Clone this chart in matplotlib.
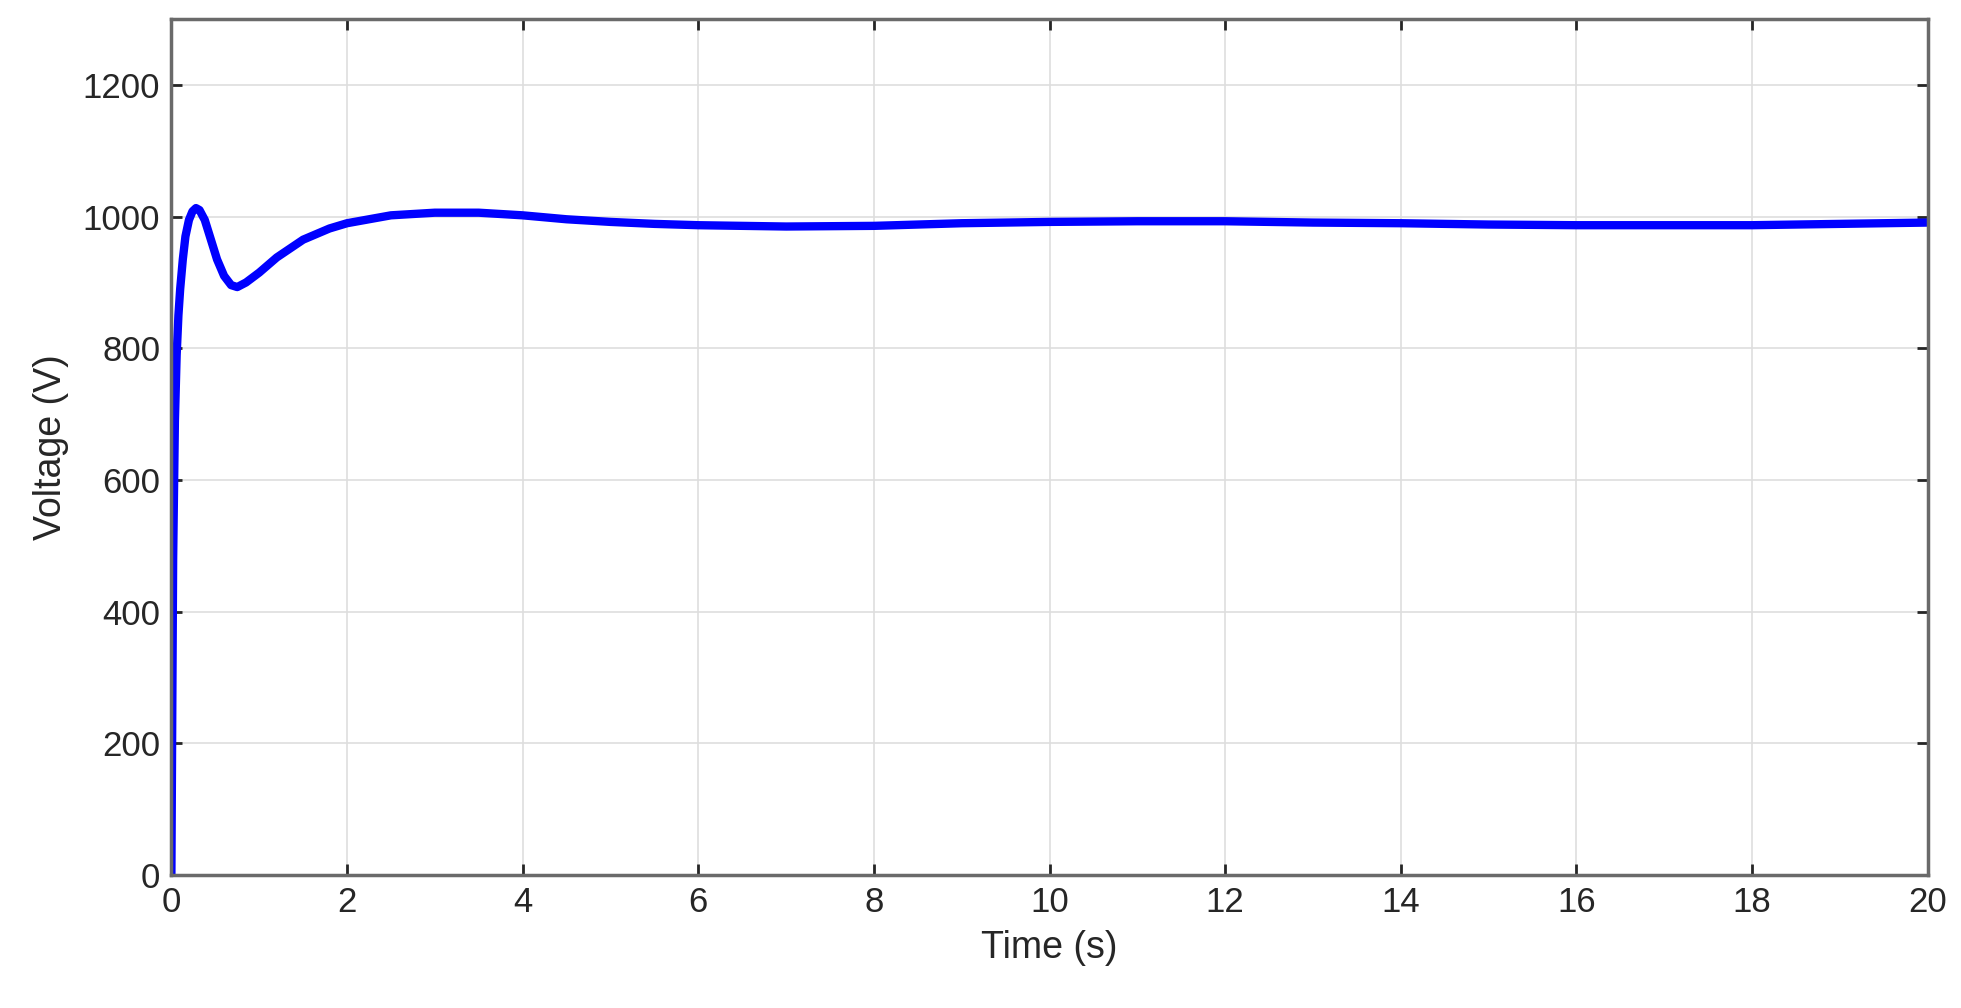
import matplotlib
matplotlib.use("Agg")
import matplotlib.pyplot as plt

plt.rcParams["font.family"] = ["Liberation Sans", "DejaVu Sans"]

# voltage response
time_s = [0, 0.01, 0.02, 0.04, 0.06, 0.08, 0.1, 0.13, 0.16, 0.2, 0.24, 0.28, 0.32,
          0.38, 0.45, 0.52, 0.6, 0.68, 0.75, 0.85, 1.0, 1.2, 1.5, 1.8, 2.0, 2.5,
          3.0, 3.5, 4.0, 4.5, 5.0, 5.5, 6.0, 7.0, 8.0, 9.0, 10.0, 11.0, 12.0,
          13.0, 14.0, 15.0, 16.0, 17.0, 18.0, 19.0, 20.0]
voltage = [0, 250, 480, 690, 790, 850, 890, 935, 970, 995, 1008, 1013, 1010,
           995, 965, 935, 910, 896, 893, 900, 915, 938, 965, 982, 990, 1002,
           1006, 1006, 1002, 996, 992, 989, 987, 985, 986, 990, 992, 993, 993,
           991, 990, 988, 987, 987, 987, 989, 991]

fig = plt.figure(figsize=(19.61, 10.08), dpi=100)
ax = fig.add_axes([0.0874, 0.132, 0.8956, 0.849])
ax.plot(time_s, voltage, color="#0000ff", lw=6, solid_capstyle="round")

ax.set_xlim(0, 20)
ax.set_ylim(0, 1300)
ax.set_xticks(range(0, 21, 2))
ax.set_yticks(range(0, 1201, 200))
ax.grid(True, color="#dedede", lw=1.2)
ax.set_axisbelow(True)
ax.tick_params(direction="in", length=8, width=2, labelsize=25, colors="#262626",
               top=True, right=True, pad=8)
for s in ax.spines.values():
    s.set_color("#6a6a6a")
    s.set_linewidth(2.5)
ax.set_xlabel("Time (s)", fontsize=27, color="#262626", labelpad=8)
ax.set_ylabel("Voltage (V)", fontsize=27, color="#262626", labelpad=10)

fig.savefig("out.png", dpi=100)
